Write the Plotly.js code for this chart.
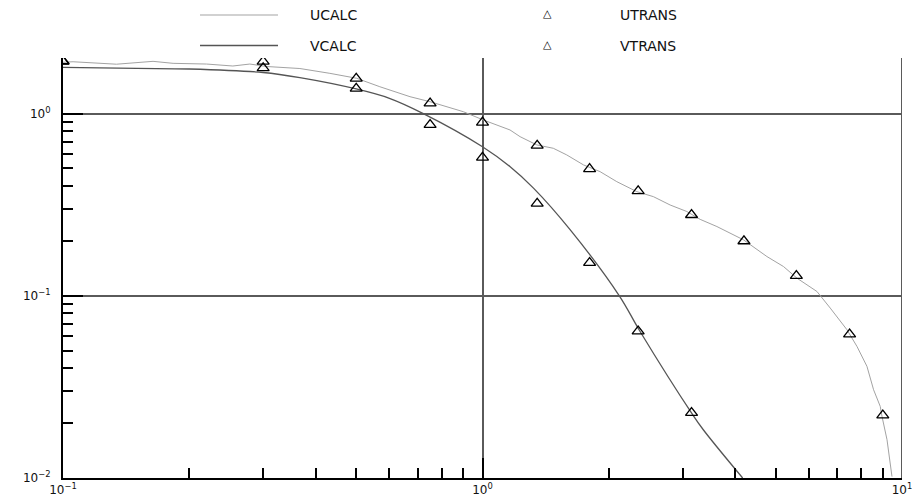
<!DOCTYPE html>
<html>
<head>
<meta charset="utf-8">
<script src="https://cdn.plot.ly/plotly-3.0.1.min.js"></script>
<style>
  html, body { margin: 0; padding: 0; background: #fff; }
  #chart { width: 912px; height: 498px; }
</style>
</head>
<body>
<div id="chart"></div>
<script>
// ---- data ----
const uCalcX = [0.1, 0.1057, 0.1341, 0.1466, 0.1639, 0.1830, 0.2198, 0.2540, 0.2789, 0.3056, 0.3670,
  0.4327, 0.5010, 0.5692, 0.6716, 0.7494, 0.8215, 0.9000, 1.0044, 1.0812, 1.163, 1.229, 1.347,
  1.475, 1.588, 1.740, 1.907, 2.090, 2.332, 2.555, 2.801, 3.070, 3.303, 3.620, 4.189, 4.764,
  5.219, 5.617, 6.269, 6.745, 7.393, 7.811, 8.25, 8.556, 8.875, 8.96, 9.21, 9.465];
const uCalcY = [1.913, 1.925, 1.866, 1.901, 1.935, 1.887, 1.870, 1.824, 1.870, 1.813, 1.767,
  1.663, 1.562, 1.404, 1.238, 1.162, 1.091, 1.024, 0.9224, 0.866, 0.813, 0.747, 0.673,
  0.645, 0.593, 0.523, 0.480, 0.423, 0.373, 0.350, 0.315, 0.290, 0.2627, 0.2399, 0.2028, 0.1642,
  0.1447, 0.1250, 0.1056, 0.0856, 0.0651, 0.0527, 0.0410, 0.0305, 0.0247, 0.0218, 0.01623, 0.01018];

const vCalcX = [0.1, 0.15, 0.2, 0.3, 0.367, 0.5, 0.6, 0.7226, 1.0, 1.164, 1.323, 1.619, 2.119, 2.377, 3.152, 3.36, 4.17];
const vCalcY = [1.794, 1.77, 1.756, 1.68, 1.575, 1.365, 1.213, 1.0, 0.658, 0.511, 0.39, 0.230, 0.1, 0.0635, 0.0227, 0.0184, 0.01];

const uTransX = [0.1, 0.3, 0.5, 0.75, 1.0, 1.35, 1.8, 2.35, 3.15, 4.2, 5.6, 7.5, 9.0];
const uTransY = [1.94, 1.93, 1.557, 1.139, 0.894, 0.668, 0.497, 0.376, 0.278, 0.1995, 0.1287, 0.0615, 0.0221];
const vTransX = [0.1, 0.3, 0.5, 0.75, 1.0, 1.35, 1.8, 2.35, 3.15];
const vTransY = [1.93, 1.778, 1.373, 0.868, 0.574, 0.321, 0.1517, 0.0639, 0.0228];

const seriesNames = ["UCALC", "VCALC", "UTRANS", "VTRANS"];
const xTickVals = [0.1, 1, 10];
const xTickText = ["10<sup>\u22121</sup>", "10<sup>0</sup>", "10<sup>1</sup>"];
const yTickVals = [0.01, 0.1, 1];
const yTickText = ["10<sup>\u22122</sup>", "10<sup>\u22121</sup>", "10<sup>0</sup>"];

// ---- styles ----
const FONT = "DejaVu Sans";
const uColor = "#a3a3a3";
const vColor = "#555555";
const gridColor = "#5a5a5a";

const traces = [
  { x: uCalcX, y: uCalcY, name: seriesNames[0], mode: "lines", line: { color: uColor, width: 1 } },
  { x: vCalcX, y: vCalcY, name: seriesNames[1], mode: "lines", line: { color: vColor, width: 1.3, shape: "spline", smoothing: 1 } },
  { x: uTransX, y: uTransY, name: seriesNames[2], mode: "markers",
    marker: { symbol: "triangle-up-open", size: 10.5, color: "#000", line: { width: 1.3 } } },
  { x: vTransX, y: vTransY, name: seriesNames[3], mode: "markers",
    marker: { symbol: "triangle-up-open", size: 10.5, color: "#000", line: { width: 1.3 } } }
];

const axisCommon = {
  type: "log",
  showline: true, linecolor: "#000", linewidth: 2,
  ticks: "inside", ticklen: 20, tickwidth: 1.5, tickcolor: "#000",
  showgrid: true, gridcolor: gridColor, gridwidth: 1.5,
  zeroline: false,
  tickmode: "array",
  tickfont: { family: FONT, size: 12, color: "#111" },
  minor: { ticks: "inside", ticklen: 10, tickwidth: 1.5, tickcolor: "#000", dtick: "D1", showgrid: false },
  ticklabeloverflow: "allow",
  automargin: false
};

const W = 839, H = 420, L = 63, T = 58;
function px(x) { return (x - L) / W; }
function py(y) { return (T + H - y) / H; }

const rows = [15, 45.5];
const annotations = [];
const shapes = [];
[[seriesNames[0], seriesNames[2], uColor, 1], [seriesNames[1], seriesNames[3], vColor, 1.3]].forEach((r, i) => {
  const yy = py(rows[i]);
  shapes.push({ type: "line", xref: "paper", yref: "paper", x0: px(200), x1: px(278), y0: yy, y1: yy,
    line: { color: r[2], width: r[3] } });
  annotations.push({ xref: "paper", yref: "paper", x: px(308), y: yy, text: r[0], showarrow: false,
    xanchor: "left", yanchor: "middle", font: { family: FONT, size: 14, color: "#111" } });
  annotations.push({ xref: "paper", yref: "paper", x: px(547), y: yy + 0.003, text: "\u25B3", showarrow: false,
    xanchor: "center", yanchor: "middle", font: { family: FONT, size: 11, color: "#000" } });
  annotations.push({ xref: "paper", yref: "paper", x: px(618), y: yy, text: r[1], showarrow: false,
    xanchor: "left", yanchor: "middle", font: { family: FONT, size: 14, color: "#111" } });
});
// major grid line at the last x decade (right edge of the plot)
shapes.push({ type: "line", xref: "x", yref: "paper", x0: xTickVals[2], x1: xTickVals[2], y0: 0, y1: 1,
  line: { color: gridColor, width: 2 }, layer: "below" });

const layout = {
  width: 912, height: 498,
  margin: { l: L, r: 912 - L - W, t: T, b: 498 - T - H, pad: 0 },
  paper_bgcolor: "#fff", plot_bgcolor: "#fff",
  showlegend: false,
  font: { family: FONT, size: 12, color: "#111" },
  xaxis: Object.assign({}, axisCommon, { range: [-1, 1], tickvals: xTickVals, ticktext: xTickText }),
  yaxis: Object.assign({}, axisCommon, { range: [-2, 0.305], tickvals: yTickVals, ticktext: yTickText, ticklabelstandoff: 8 }),
  shapes: shapes,
  annotations: annotations
};

Plotly.newPlot("chart", traces, layout, { displayModeBar: false }).then(function (gd) {
  // mirror the font size from the inline style into an attribute as well
  gd.querySelectorAll("text").forEach(function (t) {
    var fs = t.style.fontSize || window.getComputedStyle(t).fontSize;
    if (fs) t.setAttribute("font-size", parseFloat(fs));
  });
});
</script>
</body>
</html>
